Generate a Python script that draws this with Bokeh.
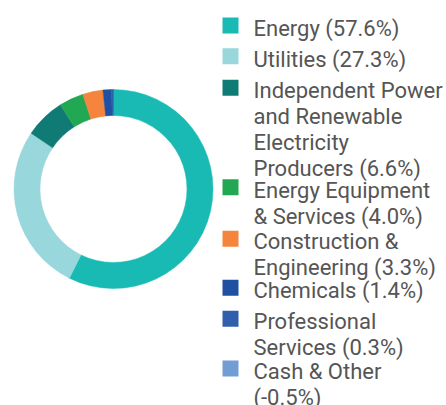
import math
from bokeh.plotting import figure
from bokeh.models import ColumnDataSource, Range1d
from bokeh.core.properties import value
from bokeh.embed import file_html
from bokeh.resources import INLINE

# ---- data ----
categories = ["Energy", "Utilities",
              "Independent Power\nand Renewable\nElectricity\nProducers",
              "Energy Equipment\n& Services", "Construction &\nEngineering",
              "Chemicals", "Professional\nServices", "Cash & Other"]
values = [57.6, 27.3, 6.6, 4.0, 3.3, 1.4, 0.3, -0.5]
colors = ["#1abab4", "#98d7dc", "#107b75", "#22a853", "#f5843c",
          "#1f50a1", "#2f5fad", "#719cd4"]
value_sep = [" ", " ", " ", " ", " ", " ", " ", "\n"]

# ---- layout (pixels, from top-left) ----
W, H = 446, 405
cx, cy = 113, H - 188.5
r_in, r_out = 73.5, 99.5
legend_first_baseline = [36, 66.7, 98.3, 197.7, 249.3, 298.3, 329.3, 379]
text_shift = -8
line_step = 25.8
font = "Roboto"
fsize = "22px"

p = figure(width=W, height=H, output_backend="svg", toolbar_location=None,
           x_range=Range1d(0, W), y_range=Range1d(0, H), min_border=0,
           background_fill_color="white", border_fill_color="white")
p.axis.visible = False
p.grid.visible = False
p.outline_line_color = None

# donut (negative values not drawn)
pos = [max(v, 0) for v in values]
total = sum(pos)
starts, ends, cols = [], [], []
cum = 0.0
for v, c in zip(pos, colors):
    if v <= 0:
        continue
    starts.append(math.pi / 2 - cum / total * 2 * math.pi)
    cum += v
    ends.append(math.pi / 2 - cum / total * 2 * math.pi)
    cols.append(c)
src = ColumnDataSource(dict(x=[cx] * len(starts), y=[cy] * len(starts),
                            s=starts, e=ends, c=cols))
p.annular_wedge(x="x", y="y", inner_radius=r_in, outer_radius=r_out,
                inner_radius_units="screen", outer_radius_units="screen",
                start_angle="s", end_angle="e", direction="clock",
                fill_color="c", line_color="c", line_width=0.5, source=src)

# legend
sq_x, sq_size = 222, 16
tx = 253
lx, ly, lt = [], [], []
qx, qy, qc = [], [], []
for i, (cat, v) in enumerate(zip(categories, values)):
    label = f"{cat}{value_sep[i]}({v:.1f}%)"
    b0 = legend_first_baseline[i]
    for j, line in enumerate(label.split("\n")):
        lx.append(tx)
        ly.append(H - (b0 + text_shift + j * line_step))
        lt.append(line)
    qx.append(sq_x + sq_size / 2)
    qy.append(H - (b0 - 11))
    qc.append(colors[i])

p.rect(x=qx, y=qy, width=sq_size, height=sq_size, width_units="screen",
       height_units="screen", fill_color=qc, line_color=None)
p.text(x=lx, y=ly, text=lt, text_font=value(font), text_font_size=fsize,
       text_color="#555555", text_baseline="alphabetic", text_align="left")

open("out.html", "w").write(file_html(p, INLINE))
